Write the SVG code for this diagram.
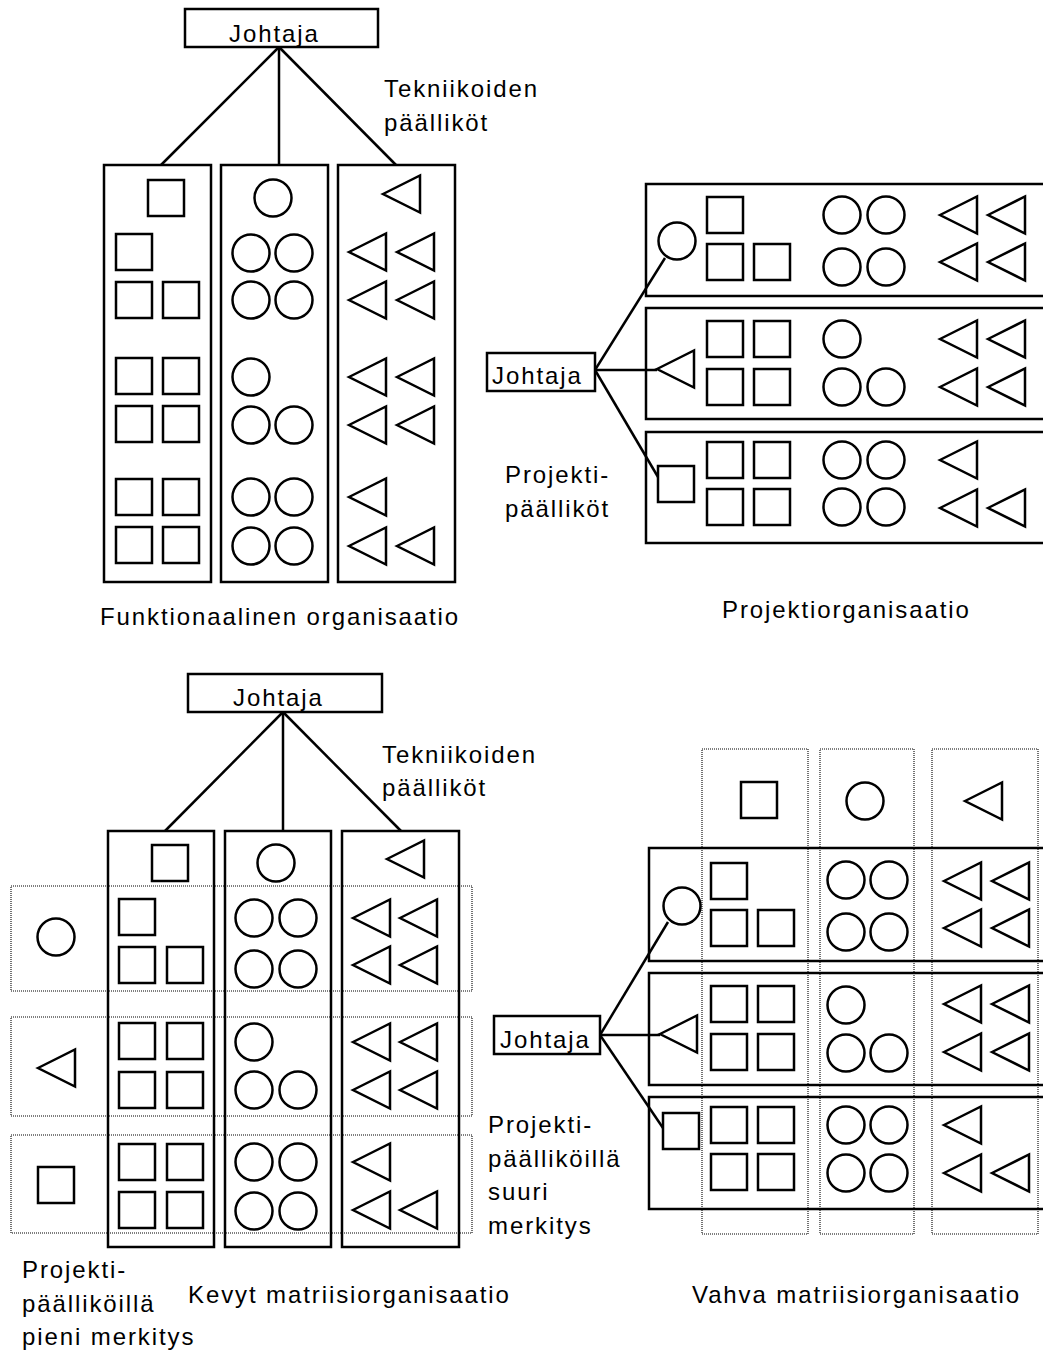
<svg xmlns="http://www.w3.org/2000/svg" xmlns:xlink="http://www.w3.org/1999/xlink" width="1043" height="1351" viewBox="0 0 1043 1351">
<style>
.s{fill:none;stroke:#000;stroke-width:2.5}
.d{fill:none;stroke:#000;stroke-width:1.1;stroke-dasharray:1 1}
.c{fill:none;stroke:#000;stroke-width:2.5}
text{font-family:"Liberation Sans",Arial,sans-serif;font-size:24px;letter-spacing:1.9px;fill:#000}
</style>
<defs>
<rect id="sq" width="36" height="36"/>
<circle id="ci" r="18.5"/>
<path id="tr" d="M0,0 L37,-18.5 L37,18.5 Z"/>
</defs>
<rect width="1043" height="1351" fill="#fff"/>

<!-- ===== Funktionaalinen organisaatio ===== -->
<g id="connectors-func" class="c">
<line x1="279" y1="47" x2="161" y2="165"/>
<line x1="279" y1="47" x2="279" y2="165"/>
<line x1="279" y1="47" x2="396" y2="165"/>
</g>
<g id="func-johtaja" class="s"><rect x="185" y="9" width="193" height="38"/><text x="229" y="42" stroke="none">Johtaja</text></g>
<g id="func-col-square" class="s">
<rect x="104" y="165" width="107" height="417"/>
<use href="#sq" x="148" y="180"/>
<use href="#sq" x="116" y="234"/><use href="#sq" x="116" y="282"/><use href="#sq" x="163" y="282"/>
<use href="#sq" x="116" y="358"/><use href="#sq" x="163" y="358"/><use href="#sq" x="116" y="406"/><use href="#sq" x="163" y="406"/>
<use href="#sq" x="116" y="479"/><use href="#sq" x="163" y="479"/><use href="#sq" x="116" y="527"/><use href="#sq" x="163" y="527"/>
</g>
<g id="func-col-circle" class="s">
<rect x="221" y="165" width="107" height="417"/>
<use href="#ci" x="273" y="198"/>
<use href="#ci" x="251" y="253"/><use href="#ci" x="294" y="253"/><use href="#ci" x="251" y="300"/><use href="#ci" x="294" y="300"/>
<use href="#ci" x="251" y="377"/><use href="#ci" x="251" y="425"/><use href="#ci" x="294" y="425"/>
<use href="#ci" x="251" y="497"/><use href="#ci" x="294" y="497"/><use href="#ci" x="251" y="546"/><use href="#ci" x="294" y="546"/>
</g>
<g id="func-col-triangle" class="s">
<rect x="338" y="165" width="117" height="417"/>
<use href="#tr" x="383" y="194"/>
<use href="#tr" x="349" y="252"/><use href="#tr" x="397" y="252"/><use href="#tr" x="349" y="300"/><use href="#tr" x="397" y="300"/>
<use href="#tr" x="349" y="377"/><use href="#tr" x="397" y="377"/><use href="#tr" x="349" y="425"/><use href="#tr" x="397" y="425"/>
<use href="#tr" x="349" y="497"/><use href="#tr" x="349" y="546"/><use href="#tr" x="397" y="546"/>
</g>
<g id="func-labels">
<text x="384" y="97">Tekniikoiden</text>
<text x="384" y="131">päälliköt</text>
<text x="100" y="625">Funktionaalinen organisaatio</text>
</g>

<!-- ===== Projektiorganisaatio ===== -->
<g id="connectors-proj" class="c">
<line x1="595" y1="370" x2="665" y2="258"/>
<line x1="595" y1="370" x2="657" y2="370"/>
<line x1="595" y1="370" x2="658" y2="477"/>
</g>
<g id="proj-johtaja" class="s"><rect x="487" y="353" width="108" height="38"/><text x="492" y="384" stroke="none">Johtaja</text></g>
<g id="proj-1" class="s">
<rect x="646" y="184" width="420" height="112"/>
<use href="#ci" x="677" y="241"/>
<use href="#sq" x="707" y="197"/><use href="#sq" x="707" y="244"/><use href="#sq" x="754" y="244"/>
<use href="#ci" x="842" y="215"/><use href="#ci" x="886" y="215"/><use href="#ci" x="842" y="267"/><use href="#ci" x="886" y="267"/>
<use href="#tr" x="940" y="215"/><use href="#tr" x="988" y="215"/><use href="#tr" x="940" y="262"/><use href="#tr" x="988" y="262"/>
</g>
<g id="proj-2" class="s">
<rect x="646" y="308" width="420" height="111"/>
<use href="#tr" x="657" y="369"/>
<use href="#sq" x="707" y="321"/><use href="#sq" x="754" y="321"/><use href="#sq" x="707" y="369"/><use href="#sq" x="754" y="369"/>
<use href="#ci" x="842" y="339"/><use href="#ci" x="842" y="387"/><use href="#ci" x="886" y="387"/>
<use href="#tr" x="940" y="339"/><use href="#tr" x="988" y="339"/><use href="#tr" x="940" y="387"/><use href="#tr" x="988" y="387"/>
</g>
<g id="proj-3" class="s">
<rect x="646" y="432" width="420" height="111"/>
<use href="#sq" x="658" y="466"/>
<use href="#sq" x="707" y="442"/><use href="#sq" x="754" y="442"/><use href="#sq" x="707" y="489"/><use href="#sq" x="754" y="489"/>
<use href="#ci" x="842" y="460"/><use href="#ci" x="886" y="460"/><use href="#ci" x="842" y="507"/><use href="#ci" x="886" y="507"/>
<use href="#tr" x="940" y="460"/><use href="#tr" x="940" y="508"/><use href="#tr" x="988" y="508"/>
</g>
<g id="proj-labels">
<text x="505" y="483">Projekti-</text>
<text x="505" y="517">päälliköt</text>
<text x="722" y="618">Projektiorganisaatio</text>
</g>

<!-- ===== Kevyt matriisiorganisaatio ===== -->
<g id="connectors-kevyt" class="c">
<line x1="283" y1="712" x2="165" y2="831"/>
<line x1="283" y1="712" x2="283" y2="831"/>
<line x1="283" y1="712" x2="401" y2="831"/>
</g>
<g id="kevyt-johtaja" class="s"><rect x="188" y="674" width="194" height="38"/><text x="233" y="706" stroke="none">Johtaja</text></g>
<g id="kevyt-rows" class="d">
<rect x="11" y="886" width="461" height="105"/>
<rect x="11" y="1017" width="461" height="99"/>
<rect x="11" y="1135" width="461" height="98"/>
</g>
<g id="kevyt-pm" class="s">
<use href="#ci" x="56" y="937"/>
<use href="#tr" x="38" y="1068"/>
<use href="#sq" x="38" y="1167"/>
</g>
<g id="kevyt-col-square" class="s">
<rect x="108" y="831" width="106" height="416"/>
<use href="#sq" x="152" y="845"/>
<use href="#sq" x="119" y="899"/><use href="#sq" x="119" y="947"/><use href="#sq" x="167" y="947"/>
<use href="#sq" x="119" y="1023"/><use href="#sq" x="167" y="1023"/><use href="#sq" x="119" y="1072"/><use href="#sq" x="167" y="1072"/>
<use href="#sq" x="119" y="1144"/><use href="#sq" x="167" y="1144"/><use href="#sq" x="119" y="1192"/><use href="#sq" x="167" y="1192"/>
</g>
<g id="kevyt-col-circle" class="s">
<rect x="225" y="831" width="106" height="416"/>
<use href="#ci" x="276" y="863"/>
<use href="#ci" x="254" y="918"/><use href="#ci" x="298" y="918"/><use href="#ci" x="254" y="969"/><use href="#ci" x="298" y="969"/>
<use href="#ci" x="254" y="1042"/><use href="#ci" x="254" y="1090"/><use href="#ci" x="298" y="1090"/>
<use href="#ci" x="254" y="1162"/><use href="#ci" x="298" y="1162"/><use href="#ci" x="254" y="1211"/><use href="#ci" x="298" y="1211"/>
</g>
<g id="kevyt-col-triangle" class="s">
<rect x="342" y="831" width="117" height="416"/>
<use href="#tr" x="387" y="859"/>
<use href="#tr" x="353" y="918"/><use href="#tr" x="400" y="918"/><use href="#tr" x="353" y="965"/><use href="#tr" x="400" y="965"/>
<use href="#tr" x="353" y="1042"/><use href="#tr" x="400" y="1042"/><use href="#tr" x="353" y="1090"/><use href="#tr" x="400" y="1090"/>
<use href="#tr" x="353" y="1162"/><use href="#tr" x="353" y="1210"/><use href="#tr" x="400" y="1210"/>
</g>
<g id="kevyt-labels">
<text x="382" y="763">Tekniikoiden</text>
<text x="382" y="796">päälliköt</text>
<text x="488" y="1133">Projekti-</text>
<text x="488" y="1167">päälliköillä</text>
<text x="488" y="1200">suuri</text>
<text x="488" y="1234">merkitys</text>
<text x="22" y="1278">Projekti-</text>
<text x="22" y="1312">päälliköillä</text>
<text x="22" y="1345">pieni merkitys</text>
<text x="188" y="1303">Kevyt matriisiorganisaatio</text>
</g>

<!-- ===== Vahva matriisiorganisaatio ===== -->
<g id="connectors-vahva" class="c">
<line x1="600" y1="1035" x2="668" y2="922"/>
<line x1="600" y1="1035" x2="660" y2="1035"/>
<line x1="600" y1="1035" x2="663" y2="1128"/>
</g>
<g id="vahva-johtaja" class="s"><rect x="494" y="1016" width="106" height="38"/><text x="500" y="1048" stroke="none">Johtaja</text></g>
<g id="vahva-cols" class="d">
<rect x="702" y="749" width="106" height="485"/>
<rect x="820" y="749" width="94" height="485"/>
<rect x="932" y="749" width="106" height="485"/>
</g>
<g id="vahva-heads" class="s">
<use href="#sq" x="741" y="782"/>
<use href="#ci" x="865" y="801"/>
<use href="#tr" x="965" y="801"/>
</g>
<g id="vahva-1" class="s">
<rect x="649" y="848" width="420" height="113"/>
<use href="#ci" x="682" y="906"/>
<use href="#sq" x="711" y="863"/><use href="#sq" x="711" y="910"/><use href="#sq" x="758" y="910"/>
<use href="#ci" x="846" y="880"/><use href="#ci" x="889" y="880"/><use href="#ci" x="846" y="932"/><use href="#ci" x="889" y="932"/>
<use href="#tr" x="944" y="881"/><use href="#tr" x="992" y="881"/><use href="#tr" x="944" y="928"/><use href="#tr" x="992" y="928"/>
</g>
<g id="vahva-2" class="s">
<rect x="649" y="973" width="420" height="112"/>
<use href="#tr" x="660" y="1034"/>
<use href="#sq" x="711" y="986"/><use href="#sq" x="758" y="986"/><use href="#sq" x="711" y="1034"/><use href="#sq" x="758" y="1034"/>
<use href="#ci" x="846" y="1005"/><use href="#ci" x="846" y="1053"/><use href="#ci" x="889" y="1053"/>
<use href="#tr" x="944" y="1004"/><use href="#tr" x="992" y="1004"/><use href="#tr" x="944" y="1052"/><use href="#tr" x="992" y="1052"/>
</g>
<g id="vahva-3" class="s">
<rect x="649" y="1097" width="420" height="112"/>
<use href="#sq" x="663" y="1113"/>
<use href="#sq" x="711" y="1107"/><use href="#sq" x="758" y="1107"/><use href="#sq" x="711" y="1154"/><use href="#sq" x="758" y="1154"/>
<use href="#ci" x="846" y="1125"/><use href="#ci" x="889" y="1125"/><use href="#ci" x="846" y="1173"/><use href="#ci" x="889" y="1173"/>
<use href="#tr" x="944" y="1125"/><use href="#tr" x="944" y="1173"/><use href="#tr" x="992" y="1173"/>
</g>
<g id="vahva-labels">
<text x="692" y="1303">Vahva matriisiorganisaatio</text>
</g>
</svg>
